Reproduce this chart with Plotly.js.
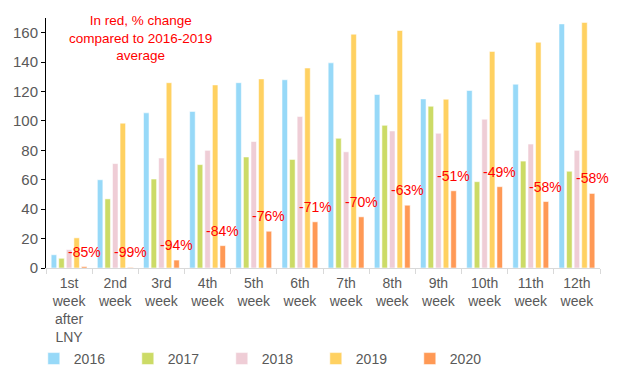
<!DOCTYPE html>
<html>
<head>
<meta charset="utf-8">
<script src="https://cdn.plot.ly/plotly-3.0.1.min.js"></script>
<style>html,body{margin:0;padding:0;background:#fff;}#chart{width:630px;height:381px;}</style>
</head>
<body>
<div id="chart"></div>
<script>
const categories = ["1st<br>week<br>after<br>LNY","2nd<br>week","3rd<br>week","4th<br>week","5th<br>week","6th<br>week","7th<br>week","8th<br>week","9th<br>week","10th<br>week","11th<br>week","12th<br>week"];
const v2016 = [9, 60, 105.5, 106.5, 126, 128, 139.5, 118, 115, 120.7, 125, 166];
const v2017 = [6.6, 47, 60.5, 70.3, 75.5, 73.8, 88.2, 97, 110, 58.7, 72.7, 65.8];
const v2018 = [12.5, 71, 74.8, 80, 86, 103, 79, 93.2, 91.6, 101.2, 84.3, 80];
const v2019 = [20.5, 98.5, 126, 124.5, 128.6, 136, 159, 161.5, 114.8, 147.3, 153.5, 167];
const v2020 = [1, 0.4, 5.4, 15.2, 25, 31.4, 34.8, 42.7, 52.5, 55.3, 45.2, 50.7];
const pctLabels = ["-85%","-99%","-94%","-84%","-76%","-71%","-70%","-63%","-51%","-49%","-58%","-58%"];
const seriesNames = ["2016","2017","2018","2019","2020"];
const seriesColors = ["#97D9F8","#CCDB66","#EFCDD6","#FFD161","#FF9955"];
const seriesValues = [v2016, v2017, v2018, v2019, v2020];

const traces = seriesValues.map((vals, i) => ({
  type: "bar",
  name: seriesNames[i],
  x: categories,
  y: vals,
  marker: {color: seriesColors[i], line: {color: "rgba(255,255,255,0.55)", width: 1}},
  hoverinfo: "skip"
}));

// plot geometry used to align the red labels over the 2020 bars
const plotW = 630 - 46 - 30;
const bargap = 0.18;
const slot = (plotW / categories.length) * (1 - bargap) / seriesNames.length;
const offset2020 = slot * 2;

const pctAnnotations = pctLabels.map((t, i) => ({
  x: categories[i], y: v2020[i], xref: "x", yref: "y",
  xshift: offset2020, yshift: 15,
  xanchor: "center", yanchor: "middle",
  text: t, showarrow: false,
  font: {size: 14, color: "#FF0000"}
}));

const layout = {
  width: 630, height: 381,
  margin: {l: 46, r: 30, t: 18, b: 113, autoexpand: false},
  paper_bgcolor: "#fff", plot_bgcolor: "#fff",
  font: {family: "Liberation Sans, Arial, sans-serif", color: "#595959"},
  barmode: "group",
  bargap: bargap,
  bargroupgap: 0.27,
  showlegend: true,
  legend: {orientation: "h", x: -0.022, xanchor: "left", y: -0.364, yanchor: "middle",
           entrywidth: 49, entrywidthmode: "pixels", itemwidth: 30,
           font: {size: 14, color: "#595959"}},
  xaxis: {
    type: "category",
    range: [-0.5, categories.length - 0.5],
    showline: true, linecolor: "#D9D9D9", linewidth: 1,
    ticks: "outside", tickson: "boundaries", ticklen: 5, tickcolor: "#D9D9D9",
    ticklabelstandoff: 2,
    tickfont: {size: 14, color: "#595959"},
    showgrid: false, zeroline: false, fixedrange: true
  },
  yaxis: {
    range: [0, 170],
    tickvals: [0,20,40,60,80,100,120,140,160],
    showline: true, linecolor: "#000", linewidth: 1,
    ticks: "outside", ticklen: 4, tickcolor: "#000",
    tickfont: {size: 15, color: "#595959"},
    showgrid: false, zeroline: false, fixedrange: true
  },
  annotations: [{
    xref: "paper", yref: "paper", x: 0.17, y: 0.92,
    xanchor: "center", yanchor: "middle",
    text: "In red, % change<br>compared to 2016-2019<br>average",
    showarrow: false, align: "center",
    font: {size: 13.5, color: "#FF0000"}
  }].concat(pctAnnotations)
};

Plotly.newPlot("chart", traces, layout, {displayModeBar: false, staticPlot: true});
</script>
</body>
</html>
